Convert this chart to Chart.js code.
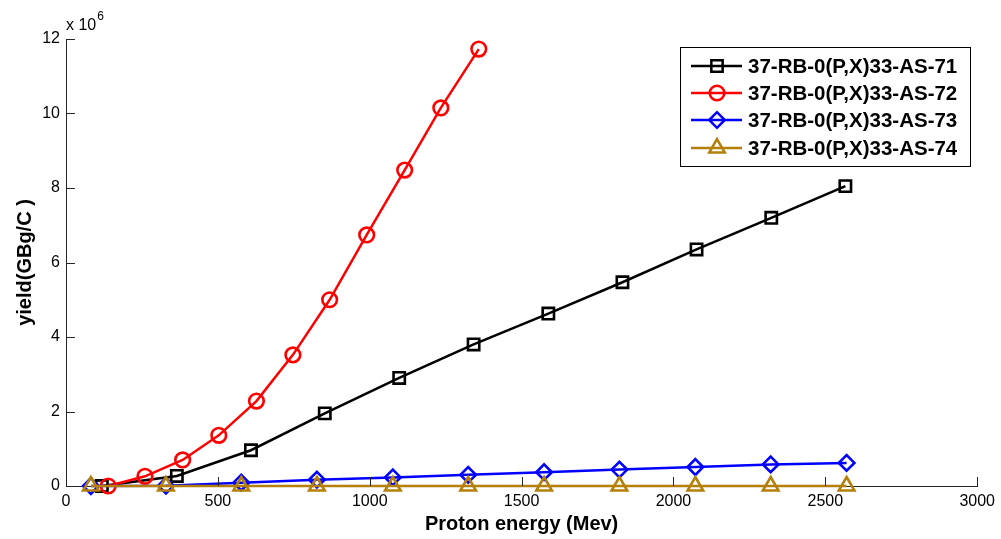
<!DOCTYPE html>
<html>
<head>
<meta charset="utf-8">
<title>Proton energy yield</title>
<script src="https://cdn.jsdelivr.net/npm/chart.js@4.4.0/dist/chart.umd.min.js"></script>
<style>
  html, body { margin: 0; padding: 0; background: #fff; }
  #wrap { width: 1001px; height: 539px; }
</style>
</head>
<body>
<div id="wrap"><canvas id="yieldChart" width="1001" height="539"></canvas></div>
<script>
// yield values are in units of 10^6 GBq/C
const seriesLabels = ['37-RB-0(P,X)33-AS-71', '37-RB-0(P,X)33-AS-72', '37-RB-0(P,X)33-AS-73', '37-RB-0(P,X)33-AS-74'];

const energyAs71 = [118, 365, 609, 852, 1097, 1342, 1588, 1832, 2076, 2322, 2566];
const yieldAs71 = [0, 0.27, 0.96, 1.95, 2.9, 3.8, 4.63, 5.47, 6.35, 7.2, 8.05];

const energyAs72 = [139, 260, 384, 503, 627, 747, 868, 990, 1115, 1234, 1359];
const yieldAs72 = [0, 0.26, 0.7, 1.36, 2.28, 3.52, 5.0, 6.74, 8.48, 10.15, 11.73];

const energyAs73 = [82, 329, 577, 826, 1076, 1324, 1574, 1822, 2072, 2320, 2570];
const yieldAs73 = [0, 0.01, 0.09, 0.17, 0.23, 0.3, 0.37, 0.44, 0.51, 0.58, 0.62];

const energyAs74 = [82, 329, 577, 826, 1076, 1324, 1574, 1822, 2072, 2320, 2570];
const yieldAs74 = [0, 0, 0, 0, 0, 0, 0, 0, 0, 0, 0];

const xTicks = [0, 500, 1000, 1500, 2000, 2500, 3000];
const yTicks = [0, 2, 4, 6, 8, 10, 12];

const colors = ['#000000', '#ff0000', '#0000ff', 'rgb(180,128,10)'];
const markers = ['rect', 'circle', 'rectRot', 'triangle'];
const markerSize = [8, 7.3, 7.8, 9];

const FONT = '"Liberation Sans", Arial, Helvetica, sans-serif';

function toPoints(xs, ys) {
    return xs.map((x, i) => ({ x: x, y: ys[i] }));
}

const allEnergy = [energyAs71, energyAs72, energyAs73, energyAs74];
const allYield = [yieldAs71, yieldAs72, yieldAs73, yieldAs74];

const datasets = [];
for (let i = 0; i < seriesLabels.length; i++) {
    datasets.push({
        label: seriesLabels[i],
        data: toPoints(allEnergy[i], allYield[i]),
        borderColor: colors[i],
        backgroundColor: 'transparent',
        borderWidth: 2.5,
        pointStyle: markers[i],
        pointRadius: markerSize[i],
        pointBorderWidth: 2.6,
        pointBorderColor: colors[i],
        pointBackgroundColor: 'transparent',
        tension: 0,
        clip: false,
        order: 4 - i   // later series drawn on top
    });
}

// inward tick marks, the "x 10^6" note and the boxed legend
const matlabLook = {
    id: 'matlabLook',
    afterDraw(chart) {
        const ctx = chart.ctx;
        const area = chart.chartArea;
        const xs = chart.scales.x;
        const ys = chart.scales.y;
        const tickLen = 9;

        ctx.save();
        ctx.strokeStyle = '#262626';
        ctx.lineWidth = 1;
        ctx.beginPath();
        xTicks.forEach(v => {
            const px = Math.round(xs.getPixelForValue(v)) + 0.5;
            ctx.moveTo(px, area.bottom);
            ctx.lineTo(px, area.bottom - tickLen);
        });
        yTicks.forEach(v => {
            const py = Math.round(ys.getPixelForValue(v)) + 0.5;
            ctx.moveTo(area.left, py);
            ctx.lineTo(area.left + tickLen, py);
        });
        ctx.stroke();

        // exponent note above the y axis
        ctx.fillStyle = '#000';
        ctx.textBaseline = 'alphabetic';
        ctx.textAlign = 'left';
        ctx.font = '16px ' + FONT;
        ctx.fillText('x 10', 66, 30);
        const w = ctx.measureText('x 10').width;
        ctx.font = '12px ' + FONT;
        ctx.fillText('6', 66 + w + 1, 20);

        // legend
        const box = { x: 680.5, y: 47.5, w: 290, h: 119 };
        ctx.fillStyle = '#fff';
        ctx.fillRect(box.x, box.y, box.w, box.h);
        ctx.strokeStyle = '#000';
        ctx.lineWidth = 1;
        ctx.strokeRect(box.x, box.y, box.w, box.h);

        const rowY = [66, 93, 120, 148];
        chart.data.datasets.forEach((ds, i) => {
            const y = rowY[i];
            ctx.strokeStyle = ds.borderColor;
            ctx.lineWidth = 2.5;
            ctx.beginPath();
            ctx.moveTo(691, y);
            ctx.lineTo(742, y);
            ctx.stroke();
            ctx.fillStyle = 'transparent';
            Chart.helpers.drawPoint(ctx, {
                pointStyle: ds.pointStyle,
                radius: ds.pointRadius,
                rotation: 0,
                borderWidth: 2.6
            }, 717, y);
            ctx.fillStyle = '#000';
            ctx.font = 'bold 20.5px ' + FONT;
            ctx.textBaseline = 'middle';
            ctx.fillText(ds.label, 748, y + 1);
        });
        ctx.restore();
    }
};

const ctx = document.getElementById('yieldChart');

new Chart(ctx, {
    type: 'line',
    data: { datasets: datasets },
    plugins: [matlabLook],
    options: {
        responsive: false,
        animation: false,
        events: [],
        layout: { padding: { top: 39, right: 23, left: 0, bottom: 0 } },
        plugins: {
            legend: { display: false },
            tooltip: { enabled: false }
        },
        scales: {
            x: {
                type: 'linear',
                min: 0,
                max: 3000,
                afterFit: (scale) => { scale.height = 53; },
                afterBuildTicks: (scale) => { scale.ticks = xTicks.map(v => ({ value: v })); },
                grid: { display: false, drawTicks: false },
                border: { display: true, color: '#262626', width: 1 },
                ticks: {
                    color: '#000',
                    padding: 6,
                    maxRotation: 0,
                    font: { family: FONT, size: 16 },
                    callback: (v) => String(v)
                },
                title: {
                    display: true,
                    text: 'Proton energy (Mev)',
                    color: '#000',
                    padding: { top: 0, bottom: 3 },
                    font: { family: FONT, size: 20, weight: 'bold' }
                }
            },
            y: {
                type: 'linear',
                min: 0,
                max: 12,
                afterFit: (scale) => { scale.width = 66; },
                afterBuildTicks: (scale) => { scale.ticks = yTicks.map(v => ({ value: v })); },
                grid: { display: false, drawTicks: false },
                border: { display: true, color: '#262626', width: 1 },
                ticks: {
                    color: '#000',
                    padding: 6,
                    font: { family: FONT, size: 16 },
                    callback: (v) => String(v)
                },
                title: {
                    display: true,
                    text: 'yield(GBg/C )',
                    color: '#000',
                    padding: { top: 13, bottom: 0 },
                    font: { family: FONT, size: 20, weight: 'bold' }
                }
            }
        }
    }
});
</script>
</body>
</html>
